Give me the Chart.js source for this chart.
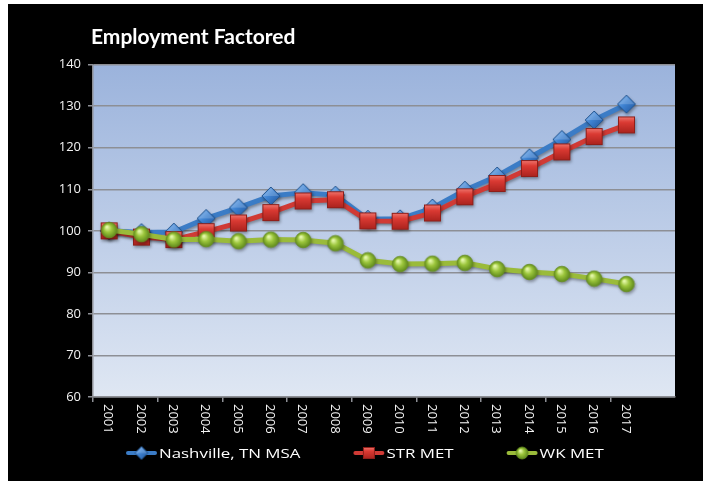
<!DOCTYPE html>
<html><head><meta charset="utf-8">
<script src="https://cdn.jsdelivr.net/npm/chart.js@4"></script>
<style>
html,body{margin:0;padding:0;background:#fff;width:703px;height:481px;overflow:hidden}
#wrap{position:absolute;left:8px;top:4px;width:695px;height:477px;background:#000}
canvas{display:block}
</style></head><body>
<div id="wrap"><canvas id="c" width="695" height="477"></canvas></div>
<script>
const titleText = 'Employment Factored';
const years = ['2001','2002','2003','2004','2005','2006','2007','2008','2009','2010','2011','2012','2013','2014','2015','2016','2017',''];
const seriesNames = ['Nashville, TN MSA', 'STR MET', 'WK MET'];
const nashville = [100.0, 99.6, 99.7, 103.0, 105.6, 108.4, 109.2, 108.6, 102.8, 102.9, 105.5, 109.8, 113.2, 117.6, 122.0, 126.7, 130.5];
const strMet    = [100.0, 98.5, 97.9, 99.8, 101.9, 104.4, 107.2, 107.5, 102.4, 102.3, 104.3, 108.2, 111.4, 115.0, 119.0, 122.7, 125.5];
const wkMet     = [100.2, 99.2, 97.9, 98.0, 97.5, 97.9, 97.8, 97.0, 92.9, 92.0, 92.1, 92.3, 90.8, 90.1, 89.6, 88.5, 87.2];
const yMin = 60, yMax = 140, yStep = 10;

function mk(size){const c=document.createElement('canvas');c.width=size;c.height=size;return c;}
function diamond(r){
  const s=Math.ceil(2*r+2), c=mk(s), g=c.getContext('2d'), m=s/2;
  const gr=g.createLinearGradient(0,0,s,s);
  gr.addColorStop(0,'#8fbdf0');gr.addColorStop(0.45,'#3f83d2');gr.addColorStop(1,'#1d4f94');
  g.beginPath();g.moveTo(m,m-r);g.lineTo(m+r,m);g.lineTo(m,m+r);g.lineTo(m-r,m);g.closePath();
  g.fillStyle=gr;g.fill();g.strokeStyle='#23558f';g.lineWidth=1;g.stroke();
  g.beginPath();g.moveTo(m,m-r+1);g.lineTo(m+r-1,m);g.lineTo(m-r+1,m);g.closePath();
  g.fillStyle='rgba(255,255,255,0.18)';g.fill();
  return c;
}
function square(h){
  const s=Math.ceil(2*h+2), c=mk(s), g=c.getContext('2d'), m=s/2;
  const gr=g.createLinearGradient(0,m-h,0,m+h);
  gr.addColorStop(0,'#f07a72');gr.addColorStop(0.35,'#db3a33');gr.addColorStop(1,'#a8221d');
  g.fillStyle=gr;g.fillRect(m-h,m-h,2*h,2*h);
  g.strokeStyle='#8e1f1a';g.lineWidth=1;g.strokeRect(m-h+0.5,m-h+0.5,2*h-1,2*h-1);
  return c;
}
function sphere(r){
  const s=Math.ceil(2*r+2), c=mk(s), g=c.getContext('2d'), m=s/2;
  const gr=g.createRadialGradient(m-r*0.3,m-r*0.4,r*0.1,m,m,r);
  gr.addColorStop(0,'#e4f7a8');gr.addColorStop(0.45,'#9cc63c');gr.addColorStop(1,'#5f8a1c');
  g.beginPath();g.arc(m,m,r,0,Math.PI*2);g.fillStyle=gr;g.fill();
  g.strokeStyle='#6a9022';g.lineWidth=0.8;g.stroke();
  return c;
}
const pts = [diamond(9), square(8.5), sphere(7.8)];
const legPts = [diamond(6.5), square(6), sphere(6)];
const lineColors = ['#3b7cc6','#d03a35','#9abb3a'];

const shadowPlugin = {
  id:'shadow',
  beforeDraw(chart){
    const {ctx, chartArea:a} = chart;
    const gr = ctx.createLinearGradient(0,a.top,0,a.bottom);
    gr.addColorStop(0,'#9bb3dc');gr.addColorStop(1,'#dfe7f3');
    ctx.save();ctx.fillStyle=gr;ctx.fillRect(a.left,a.top,a.right-a.left,a.bottom-a.top);ctx.restore();
  },
  beforeDatasetsDraw(chart){
    const ctx=chart.ctx;ctx.save();
    ctx.shadowColor='rgba(0,0,0,0.35)';ctx.shadowBlur=3;ctx.shadowOffsetX=1;ctx.shadowOffsetY=2;
  },
  afterDatasetsDraw(chart){chart.ctx.restore();},
  afterDraw(chart){
    const {ctx, chartArea:a, scales} = chart;
    ctx.save();
    // title
    ctx.fillStyle='#ffffff';ctx.font='bold 21px Lato';ctx.textBaseline='alphabetic';ctx.textAlign='left';
    ctx.fillText(titleText, 83, 40);
    // x labels rotated clockwise
    ctx.font='13px "Open Sans"';ctx.fillStyle='#f2f2f2';ctx.textBaseline='middle';
    years.forEach((y,i)=>{
      if(!y) return;
      const x=scales.x.getPixelForValue(i);
      ctx.save();ctx.translate(x-1, a.bottom+7);ctx.rotate(Math.PI/2);ctx.fillText(y,0,0);ctx.restore();
    });
    // legend
    ctx.font='13.5px "Open Sans"';ctx.textBaseline='middle';
    const sx=1.25, cy=449;
    let x=118;
    seriesNames.forEach((n,i)=>{
      ctx.strokeStyle=lineColors[i];ctx.lineWidth=4;ctx.lineCap='round';
      ctx.beginPath();ctx.moveTo(x+2,cy);ctx.lineTo(x+29,cy);ctx.stroke();
      const p=legPts[i];ctx.drawImage(p,x+15.5-p.width/2,cy-p.height/2);
      const tx=x+33;
      ctx.save();ctx.translate(tx,cy);ctx.scale(sx,1);ctx.fillStyle='#ffffff';ctx.fillText(n,0,1);ctx.restore();
      x = tx + ctx.measureText(n).width*sx + 53;
    });
    ctx.restore();
  }
};

const grid='#8d8f95';
new Chart(document.getElementById('c'), {
  type:'line',
  data:{
    labels: years,
    datasets:[
      {label:seriesNames[0], data:nashville, borderColor:lineColors[0], borderWidth:5, pointStyle:pts[0], pointRadius:9, pointHoverRadius:9, order:3, tension:0},
      {label:seriesNames[1], data:strMet, borderColor:lineColors[1], borderWidth:5, pointStyle:pts[1], pointRadius:9, pointHoverRadius:9, order:2, tension:0},
      {label:seriesNames[2], data:wkMet, borderColor:lineColors[2], borderWidth:5, pointStyle:pts[2], pointRadius:8, pointHoverRadius:8, order:1, tension:0}
    ]
  },
  options:{
    responsive:false, animation:false, devicePixelRatio:1,
    layout:{padding:{top:60.7, right:28, bottom:0, left:0}},
    plugins:{legend:{display:false}, title:{display:false}, tooltip:{enabled:false}},
    scales:{
      x:{type:'category', offset:true,
        grid:{offset:true, drawOnChartArea:false, drawTicks:true, tickLength:5, lineWidth:1.5, color:(c)=> (c.index%2===0? grid : 'rgba(0,0,0,0)')},
        border:{color:grid, width:1.5},
        ticks:{display:false},
        afterFit(s){s.height=84;}
      },
      y:{min:yMin, max:yMax,
        ticks:{stepSize:yStep, color:'#f2f2f2', font:{family:'Open Sans', size:13}, padding:7},
        grid:{color:grid, lineWidth:1.5, tickLength:5},
        border:{color:grid, width:1.5},
        afterFit(s){s.width=85;}
      }
    }
  },
  plugins:[shadowPlugin]
});
</script>
</body></html>
